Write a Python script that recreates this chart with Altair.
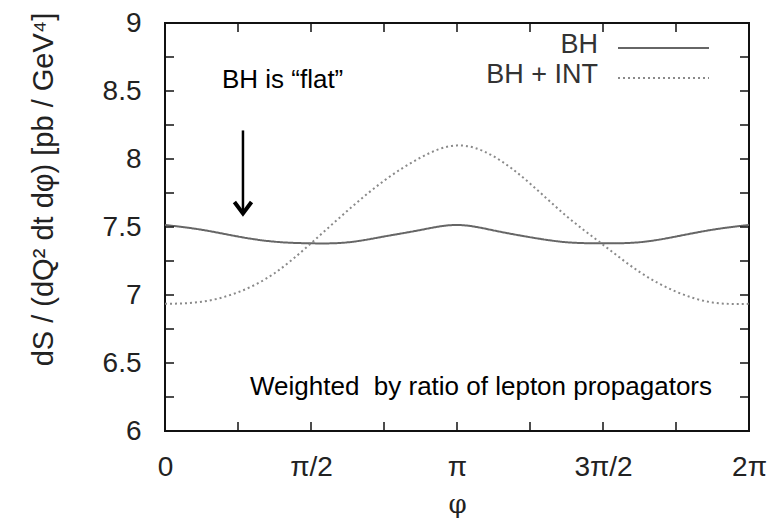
import altair as alt
import pandas as pd

# phi in units of pi
phi_pi = [0, 0.125, 0.25, 0.375, 0.5, 0.625, 0.75, 0.875, 1.0,
          1.125, 1.25, 1.375, 1.5, 1.625, 1.75, 1.875, 2.0]
bh = [7.515, 7.48, 7.43, 7.392, 7.38, 7.387, 7.43, 7.478, 7.515,
      7.475, 7.425, 7.388, 7.38, 7.388, 7.43, 7.48, 7.515]
bh_int = [6.935, 6.95, 7.02, 7.16, 7.38, 7.62, 7.84, 8.01, 8.10,
          8.02, 7.82, 7.58, 7.37, 7.17, 7.025, 6.945, 6.935]

series_names = ["BH", "BH + INT"]
series_colors = ["#666666", "#8a8a8a"]
series_dash = [[1, 0], [2, 3]]

x_tick_values = [0, 0.5, 1.0, 1.5, 2.0]
x_tick_labels = ["0", "π/2", "π", "3π/2", "2π"]
x_minor = [0.25, 0.5, 0.75, 1.0, 1.25, 1.5, 1.75]
y_tick_values = [6, 6.5, 7, 7.5, 8, 8.5, 9]
y_minor = [6.25, 6.5, 6.75, 7, 7.25, 7.5, 7.75, 8, 8.25, 8.5, 8.75]

W, H = 584, 408
FONT = "Liberation Sans"

df = pd.DataFrame({
    "phi": phi_pi * 2,
    "value": bh + bh_int,
    "series": [series_names[0]] * len(phi_pi) + [series_names[1]] * len(phi_pi),
})

xscale = alt.Scale(domain=[0, 2], nice=False, zero=False)
yscale = alt.Scale(domain=[6, 9], nice=False, zero=False)
cscale = alt.Scale(domain=series_names, range=series_colors)
dscale = alt.Scale(domain=series_names, range=series_dash)

label_expr = " : ".join(
    f"datum.value == {v} ? '{l}'" for v, l in zip(x_tick_values, x_tick_labels)
) + " : ''"

x_axis = alt.Axis(values=x_tick_values, labelExpr=label_expr, ticks=False, domain=False,
                  grid=False, labelFontSize=28, labelPadding=22, labelFlush=False,
                  labelOverlap=False, labelFont=FONT, labelColor="#222222",
                  title="φ", titleFont="DejaVu Serif", titleFontSize=26,
                  titleFontWeight="normal", titlePadding=10, titleColor="#222222")
y_axis = alt.Axis(values=y_tick_values, format=".1~f", ticks=False, domain=False,
                  grid=False, labelFontSize=28, labelPadding=24, labelFont=FONT,
                  labelColor="#222222",
                  title="dS / (dQ² dt dφ)  [pb / GeV⁴]", titleFont=FONT,
                  titleFontSize=29, titleFontWeight="normal", titleColor="#222222",
                  titleAngle=-90, titleX=-122, titleY=166, titleAlign="center",
                  titleBaseline="middle")

lines = alt.Chart(df).mark_line(strokeWidth=2, interpolate="natural", clip=True).encode(
    x=alt.X("phi:Q", scale=xscale, axis=x_axis),
    y=alt.Y("value:Q", scale=yscale, axis=y_axis),
    color=alt.Color("series:N", scale=cscale, legend=None),
    strokeDash=alt.StrokeDash("series:N", scale=dscale, legend=None),
)

# inward ticks on all four sides
xt = pd.DataFrame({"x": x_minor})
yt = pd.DataFrame({"y": y_minor})
tick_style = dict(color="#111111", strokeWidth=1.5)
xb = alt.Chart(xt).mark_rule(**tick_style).encode(
    x=alt.X("x:Q", scale=xscale), y=alt.value(H), y2=alt.value(H - 9))
xtp = alt.Chart(xt).mark_rule(**tick_style).encode(
    x=alt.X("x:Q", scale=xscale), y=alt.value(0), y2=alt.value(9))
yl = alt.Chart(yt).mark_rule(**tick_style).encode(
    y=alt.Y("y:Q", scale=yscale), x=alt.value(0), x2=alt.value(9))
yr = alt.Chart(yt).mark_rule(**tick_style).encode(
    y=alt.Y("y:Q", scale=yscale), x=alt.value(W), x2=alt.value(W - 9))

# legend (label left of sample, gnuplot style)
leg = pd.DataFrame({"series": series_names})
leg_rows_text_y = [22, 52]
leg_rows_line_y = [25, 55]
legend_layers = []
for name, ty, ly in zip(series_names, leg_rows_text_y, leg_rows_line_y):
    base = alt.Chart(leg).transform_filter(alt.datum.series == name)
    legend_layers.append(base.mark_text(align="right", baseline="middle", font=FONT,
                                        fontSize=27, color="#333333").encode(
        x=alt.value(433), y=alt.value(ty), text="series:N"))
    legend_layers.append(base.mark_rule(strokeWidth=2).encode(
        x=alt.value(453), x2=alt.value(544), y=alt.value(ly),
        color=alt.Color("series:N", scale=cscale, legend=None),
        strokeDash=alt.StrokeDash("series:N", scale=dscale, legend=None)))

# annotations
ann = pd.DataFrame({
    "x": [0.195, 0.291],
    "y": [8.58, 6.32],
    "text": ["BH is “flat”", "Weighted\u00a0 by ratio of lepton propagators"],
})
ann_text = alt.Chart(ann).mark_text(align="left", baseline="middle", font=FONT,
                                     fontSize=26, color="#000000").encode(
    x=alt.X("x:Q", scale=xscale), y=alt.Y("y:Q", scale=yscale), text="text:N")

arrow_x = [0.267]
arrow_top = [8.21]
arrow_tip = [7.6]
arr = pd.DataFrame({"x": arrow_x, "y1": arrow_top, "y2": arrow_tip})
arrow_shaft = alt.Chart(arr).mark_rule(color="black", strokeWidth=2.5).encode(
    x=alt.X("x:Q", scale=xscale), y=alt.Y("y1:Q", scale=yscale), y2="y2:Q")
arrow_head = alt.Chart(arr).mark_point(
    shape="M -0.75 -1 L 0 0 L 0.75 -1", filled=False, color="black",
    strokeWidth=4, size=520, opacity=1).encode(
    x=alt.X("x:Q", scale=xscale), y=alt.Y("y2:Q", scale=yscale))

chart = alt.layer(lines, xb, xtp, yl, yr, *legend_layers, ann_text,
                  arrow_shaft, arrow_head).properties(
    width=W, height=H,
    autosize=alt.AutoSizeParams(type="none"),
    padding={"left": 165, "top": 23, "right": 30, "bottom": 101},
    background="white",
).configure_view(stroke="#111111", strokeWidth=2)

chart.save("out.html", embed_options={"renderer": "svg", "actions": False})
